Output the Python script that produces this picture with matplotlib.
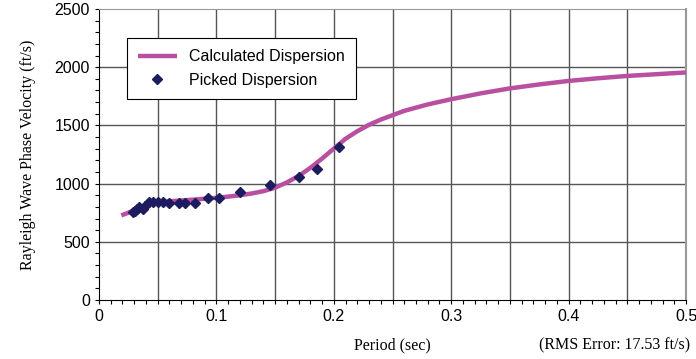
"""Rayleigh wave dispersion curve: calculated vs picked."""

import matplotlib
matplotlib.use("Agg")
import matplotlib.pyplot as plt
from matplotlib.ticker import MultipleLocator

# calculated dispersion curve (period s, velocity ft/s)
calc_period = [0.019, 0.025, 0.030, 0.035, 0.040, 0.045, 0.050, 0.060, 0.070, 0.080,
               0.090, 0.100, 0.110, 0.120, 0.130, 0.140, 0.150, 0.160, 0.170, 0.180,
               0.190, 0.200, 0.210, 0.220, 0.230, 0.240, 0.260, 0.280, 0.300, 0.325,
               0.350, 0.375, 0.400, 0.425, 0.450, 0.475, 0.500]
calc_velocity = [727, 750, 770, 795, 815, 830, 840, 848, 855, 862,
                 870, 878, 888, 900, 915, 935, 965, 1010, 1065, 1135,
                 1215, 1300, 1385, 1450, 1505, 1550, 1625, 1680, 1725, 1775,
                 1818, 1852, 1882, 1905, 1925, 1940, 1955]

# picked dispersion points
picked_period = [0.0287, 0.0307, 0.0320, 0.0344, 0.0378, 0.0390, 0.0429, 0.0463,
                 0.0505, 0.0548, 0.0599, 0.0684, 0.0733, 0.0818, 0.0926, 0.1025,
                 0.1200, 0.1457, 0.1700, 0.1857, 0.2042]
picked_velocity = [753, 761, 781, 796, 784, 810, 839, 839,
                   839, 839, 833, 833, 833, 833, 877, 877,
                   928, 985, 1054, 1129, 1316]

x_ticks = [0, 0.1, 0.2, 0.3, 0.4, 0.5]
x_tick_labels = ["0", "0.1", "0.2", "0.3", "0.4", "0.5"]
y_ticks = [0, 500, 1000, 1500, 2000, 2500]
y_tick_labels = ["0", "500", "1000", "1500", "2000", "2500"]

LINE_COLOR = "#B94FA0"
MARKER_COLOR = "#1C1C5E"
GRID_COLOR = "#555555"
SANS = "Liberation Sans"
SERIF = "Liberation Serif"

fig = plt.figure(figsize=(6.96, 3.59), dpi=100)
ax = fig.add_axes([99 / 696, 59 / 359, 587 / 696, 291 / 359])

ax.plot(calc_period, calc_velocity, color=LINE_COLOR, lw=3.2,
        solid_capstyle="butt", label="Calculated Dispersion", zorder=3)
ax.plot(picked_period, picked_velocity, linestyle="none", marker="D", ms=5.5,
        color=MARKER_COLOR, label="Picked Dispersion", zorder=4)

ax.set_xlim(0, 0.5)
ax.set_ylim(0, 2500)
ax.set_xticks(x_ticks, x_tick_labels)
ax.set_yticks(y_ticks, y_tick_labels)
ax.xaxis.set_minor_locator(MultipleLocator(0.01))
ax.yaxis.set_minor_locator(MultipleLocator(100))

for t in [i * 0.05 for i in range(1, 11)]:
    ax.axvline(t, color=GRID_COLOR, lw=1, zorder=1)
for v in [500, 1000, 1500, 2000]:
    ax.axhline(v, color=GRID_COLOR, lw=1, zorder=1)

ax.tick_params(which="both", direction="out", length=3, width=0.8, colors="black")
ax.tick_params(labelsize=11.5)
for lab in ax.get_xticklabels() + ax.get_yticklabels():
    lab.set_family(SANS)

ax.spines["left"].set_color("black")
ax.spines["bottom"].set_color("black")
ax.spines["top"].set_color("#999999")
ax.spines["right"].set_color("#999999")
ax.spines["right"].set_linewidth(1.5)

ax.set_ylabel("Rayleigh Wave Phase Velocity (ft/s)", family=SERIF, fontsize=11.5,
              labelpad=13)
fig.text(392 / 696, 1 - 345 / 359, "Period (sec)", family=SERIF, fontsize=11.5,
         ha="center", va="center")
fig.text(690 / 696, 1 - 345 / 359, "(RMS Error: 17.53 ft/s)", family=SERIF,
         fontsize=11.5, ha="right", va="center")

leg = ax.legend(loc="upper left", bbox_to_anchor=(28 / 587, (300 - 38) / 291),
                borderaxespad=0, frameon=True, fancybox=False, framealpha=1,
                edgecolor="black", borderpad=0.7, handlelength=2.4,
                labelspacing=0.55, prop={"family": SANS, "size": 11.5})
leg.get_frame().set_linewidth(0.8)

fig.savefig("out.png", dpi=100, facecolor="white")
